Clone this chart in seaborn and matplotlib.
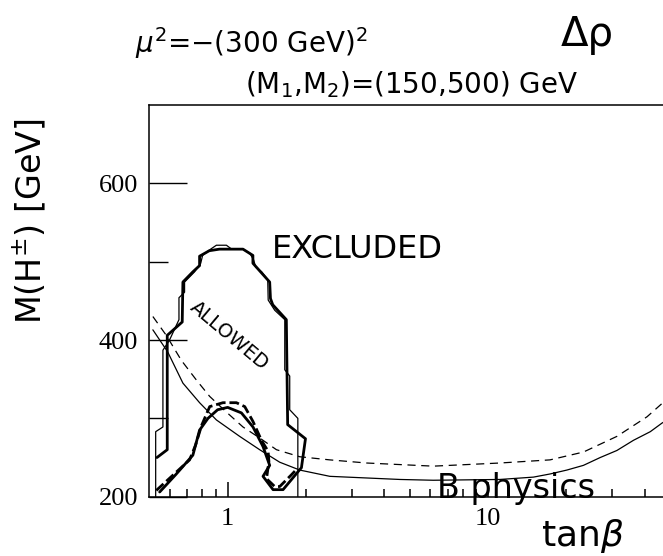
import numpy as np
import pandas as pd
import matplotlib
matplotlib.use("Agg")
import matplotlib.pyplot as plt
from matplotlib.ticker import FixedLocator, NullFormatter, FixedFormatter
import seaborn as sns

# Allowed-region boundary (thick solid): upper contour, then the lower bump back to the left
allowed_x = [0.535, 0.586, 0.586, 0.669, 0.673, 0.735, 0.780, 0.780, 0.850, 0.930,
             1.145, 1.250, 1.250, 1.450, 1.460, 1.490, 1.680, 1.700, 1.990, 1.920,
             1.864, 1.632, 1.494, 1.367, 1.450, 1.367, 1.251, 1.129, 1.000, 0.915,
             0.840, 0.780, 0.735, 0.631, 0.548]
allowed_y = [250, 260, 406, 423, 474, 487, 495, 507, 514, 516,
             516, 508, 498, 474, 453, 445, 426, 292, 274, 237,
             232, 209, 209, 226, 240, 264, 289, 307, 314, 311,
             300, 285, 253, 228, 206]

# Second allowed-region contour (thin solid)
allowed2_x = [0.529, 0.529, 0.564, 0.564, 0.598, 0.650, 0.650, 0.683, 0.683, 0.746,
              0.788, 0.801, 0.860, 0.905, 0.989, 1.036, 1.142, 1.215, 1.259, 1.281,
              1.351, 1.425, 1.431, 1.516, 1.657, 1.657, 1.731, 1.731, 1.860, 1.860]
allowed2_y = [200, 283, 289, 387, 400, 426, 454, 461, 474, 487,
              498, 508, 516, 521, 521, 516, 516, 511, 502, 493,
              487, 477, 451, 438, 426, 362, 354, 311, 300, 200]

# Lower boundary for the alternative parameter set (thick dashed)
lower_x = [0.532, 0.714, 0.753, 0.794, 0.853, 0.959, 1.080, 1.163, 1.251, 1.348,
           1.430, 1.440, 1.410, 1.516, 1.585, 1.758, 1.840]
lower_y = [208, 247, 266, 291, 315, 320, 320, 315, 296, 272,
           258, 245, 223, 213, 213, 228, 235]

# B-physics bounds
bphys_x = [0.516, 0.588, 0.673, 0.780, 0.905, 1.112, 1.327, 1.585, 1.892, 2.468,
           4.59, 6.16, 11.1, 14.94, 17.3, 20.08, 23.25, 26.97, 31.26, 36.2,
           42.0, 46.6, 50.0]
bphys_y = [413, 385, 345, 320, 298, 277, 260, 244, 234, 226,
           222, 221, 222, 225, 229, 234, 240, 250, 259, 272,
           283, 294, 300]
bphys2_x = [0.516, 0.581, 0.664, 0.758, 0.853, 0.989, 1.145, 1.327, 1.539, 1.892,
            2.468, 3.42, 6.16, 11.1, 17.3, 23.25, 31.26, 40.8, 46.6, 50.0]
bphys2_y = [430, 406, 374, 349, 328, 308, 289, 275, 260, 251,
            247, 243, 239, 243, 247, 257, 277, 302, 319, 327]

y_major = [200, 400, 600]
y_minor = [300, 500]
x_major = [1, 10]
x_minor = [0.6, 0.7, 0.8, 0.9, 2, 3, 4, 5, 6, 7, 8, 9, 20, 30, 40]

sns.set_style("ticks")
plt.rcParams['font.family'] = ['DejaVu Sans']
plt.rcParams['mathtext.fontset'] = 'dejavusans'
plt.rcParams['text.color'] = 'black'

W, H = 663, 556
fig = plt.figure(figsize=(W / 100, H / 100), dpi=100)
ax = fig.add_axes([149.3 / W, (H - 496.7) / H, (670 - 149.3) / W, (496.7 - 105) / H])

lw_thick, lw_thin = 2.0, 0.9

def draw(x, y, **kw):
    df = pd.DataFrame({"x": x, "y": y})
    sns.lineplot(data=df, x="x", y="y", sort=False, estimator=None, ax=ax,
                 color="black", **kw)

draw(allowed2_x, allowed2_y, linewidth=lw_thin)
draw(allowed_x, allowed_y, linewidth=lw_thick)
draw(lower_x, lower_y, linewidth=lw_thick, dashes=(3.5, 1.4))
draw(bphys_x, bphys_y, linewidth=lw_thin)
draw(bphys2_x, bphys2_y, linewidth=lw_thin, dashes=(6.5, 4.5))

ax.set_xscale("log")
ax.set_xlim(0.5, 50)
ax.set_ylim(200, 700)
ax.set_xlabel("")
ax.set_ylabel("")

ax.xaxis.set_major_locator(FixedLocator(x_major))
ax.xaxis.set_major_formatter(FixedFormatter([str(v) for v in x_major]))
ax.xaxis.set_minor_locator(FixedLocator(x_minor))
ax.xaxis.set_minor_formatter(NullFormatter())
ax.yaxis.set_major_locator(FixedLocator(y_major))
ax.yaxis.set_major_formatter(FixedFormatter([str(v) for v in y_major]))
ax.yaxis.set_minor_locator(FixedLocator(y_minor))
ax.yaxis.set_minor_formatter(NullFormatter())

ax.xaxis.set_tick_params(which="both", bottom=True, top=False, direction="in", color="black")
ax.xaxis.set_tick_params(which="major", length=11, width=1.1, pad=8)
ax.xaxis.set_tick_params(which="minor", length=6, width=1.1)
ax.yaxis.set_tick_params(which="both", left=True, right=False, direction="in", color="black")
ax.yaxis.set_tick_params(which="major", length=27.4, width=1.0, pad=8)
ax.yaxis.set_tick_params(which="minor", length=13.7, width=1.0)
ax.tick_params(labelsize=19, labelcolor="black")
for lab in ax.get_xticklabels() + ax.get_yticklabels():
    lab.set_fontfamily("Liberation Serif")

for s in ax.spines.values():
    s.set_linewidth(1.1)
    s.set_color("black")

# Region labels
ax.text(1.476, 515, "EXCLUDED", fontsize=23, ha="left", va="center")
ax.text(1.018, 405, "ALLOWED", fontsize=14, ha="center", va="center", rotation=-40)
ax.text(6.37, 198, "B physics", fontsize=24, ha="left", va="baseline")

# Axis titles and parameter annotations
fig.text(541 / W, 1 - 546 / H, r"tan$\beta$", fontsize=26, ha="left", va="baseline")
fig.text(30 / W, 1 - 221 / H, r"M(H$^{\pm}$) [GeV]", fontsize=24, rotation=90,
         ha="center", va="center")
fig.text(135 / W, 1 - 53 / H, r"$\mu^2$=$-$(300 GeV)$^2$", fontsize=20,
         ha="left", va="baseline")
fig.text(245 / W, 1 - 93 / H, r"(M$_1$,M$_2$)=(150,500) GeV", fontsize=20,
         ha="left", va="baseline")
fig.text(587 / W, 1 - 35 / H, "Δρ", fontsize=29, ha="center", va="center")

fig.savefig("out.png", dpi=100)
